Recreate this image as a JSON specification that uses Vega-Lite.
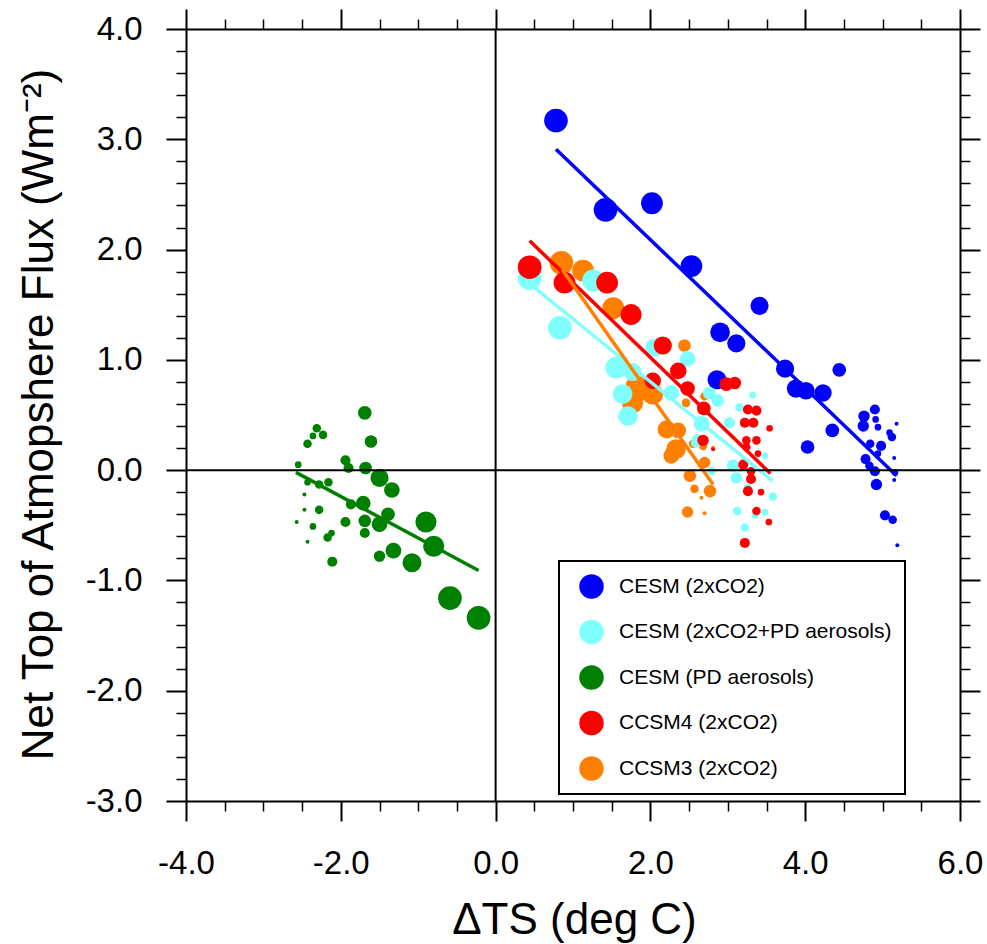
{
  "$schema": "https://vega.github.io/schema/vega-lite/v6.json",
  "width": 774,
  "height": 772,
  "autosize": {"type": "none"},
  "padding": {"left": 186, "top": 29, "right": 27, "bottom": 143},
  "background": "white",
  "config": {
    "view": {"stroke": null},
    "font": "Liberation Sans",
    "axis": {"grid": false, "labelFlush": false, "labelOverlap": false, "domainColor": "black", "tickColor": "black", "labelColor": "black", "titleColor": "black", "labelFont": "Liberation Sans", "titleFont": "Liberation Sans"},
    "legend": {"strokeWidth": 2}
  },
  "datasets": {
    "pts": [
      {"series": "CESM (2xCO2)", "dts": 0.78, "flux": 3.17, "t": 1},
      {"series": "CESM (2xCO2)", "dts": 1.42, "flux": 2.36, "t": 1},
      {"series": "CESM (2xCO2)", "dts": 2.02, "flux": 2.42, "t": 4},
      {"series": "CESM (2xCO2)", "dts": 2.53, "flux": 1.85, "t": 4},
      {"series": "CESM (2xCO2)", "dts": 2.90, "flux": 1.25, "t": 7},
      {"series": "CESM (2xCO2)", "dts": 2.86, "flux": 0.82, "t": 8},
      {"series": "CESM (2xCO2)", "dts": 3.41, "flux": 1.49, "t": 9},
      {"series": "CESM (2xCO2)", "dts": 3.11, "flux": 1.15, "t": 9},
      {"series": "CESM (2xCO2)", "dts": 3.74, "flux": 0.92, "t": 9},
      {"series": "CESM (2xCO2)", "dts": 3.88, "flux": 0.74, "t": 9},
      {"series": "CESM (2xCO2)", "dts": 4.01, "flux": 0.72, "t": 10},
      {"series": "CESM (2xCO2)", "dts": 4.23, "flux": 0.70, "t": 10},
      {"series": "CESM (2xCO2)", "dts": 4.44, "flux": 0.91, "t": 14},
      {"series": "CESM (2xCO2)", "dts": 4.35, "flux": 0.36, "t": 14},
      {"series": "CESM (2xCO2)", "dts": 4.03, "flux": 0.21, "t": 14},
      {"series": "CESM (2xCO2)", "dts": 4.76, "flux": 0.49, "t": 16},
      {"series": "CESM (2xCO2)", "dts": 4.75, "flux": 0.40, "t": 16},
      {"series": "CESM (2xCO2)", "dts": 4.92, "flux": -0.13, "t": 16},
      {"series": "CESM (2xCO2)", "dts": 4.90, "flux": 0.55, "t": 17},
      {"series": "CESM (2xCO2)", "dts": 4.98, "flux": 0.22, "t": 17},
      {"series": "CESM (2xCO2)", "dts": 4.78, "flux": 0.10, "t": 17},
      {"series": "CESM (2xCO2)", "dts": 4.90, "flux": -0.01, "t": 17},
      {"series": "CESM (2xCO2)", "dts": 5.03, "flux": -0.41, "t": 17},
      {"series": "CESM (2xCO2)", "dts": 5.12, "flux": 0.30, "t": 18},
      {"series": "CESM (2xCO2)", "dts": 4.84, "flux": 0.24, "t": 18},
      {"series": "CESM (2xCO2)", "dts": 4.83, "flux": 0.04, "t": 18},
      {"series": "CESM (2xCO2)", "dts": 5.13, "flux": -0.45, "t": 18},
      {"series": "CESM (2xCO2)", "dts": 4.91, "flux": 0.46, "t": 19},
      {"series": "CESM (2xCO2)", "dts": 4.94, "flux": 0.39, "t": 19},
      {"series": "CESM (2xCO2)", "dts": 5.09, "flux": 0.34, "t": 19},
      {"series": "CESM (2xCO2)", "dts": 4.94, "flux": 0.15, "t": 19},
      {"series": "CESM (2xCO2)", "dts": 5.16, "flux": -0.02, "t": 19},
      {"series": "CESM (2xCO2)", "dts": 5.18, "flux": 0.42, "t": 20},
      {"series": "CESM (2xCO2)", "dts": 5.15, "flux": 0.11, "t": 20},
      {"series": "CESM (2xCO2)", "dts": 5.15, "flux": -0.09, "t": 20},
      {"series": "CESM (2xCO2)", "dts": 5.19, "flux": -0.68, "t": 20},

      {"series": "CCSM3 (2xCO2)", "dts": 0.85, "flux": 1.88, "t": 1},
      {"series": "CCSM3 (2xCO2)", "dts": 1.13, "flux": 1.81, "t": 4},
      {"series": "CCSM3 (2xCO2)", "dts": 1.52, "flux": 1.47, "t": 4},
      {"series": "CCSM3 (2xCO2)", "dts": 1.82, "flux": 0.76, "t": 4},
      {"series": "CCSM3 (2xCO2)", "dts": 2.03, "flux": 0.69, "t": 5},
      {"series": "CCSM3 (2xCO2)", "dts": 1.77, "flux": 0.61, "t": 5},
      {"series": "CCSM3 (2xCO2)", "dts": 1.93, "flux": 0.72, "t": 7},
      {"series": "CCSM3 (2xCO2)", "dts": 2.33, "flux": 0.19, "t": 7},
      {"series": "CCSM3 (2xCO2)", "dts": 2.21, "flux": 0.37, "t": 9},
      {"series": "CCSM3 (2xCO2)", "dts": 2.36, "flux": 0.36, "t": 12},
      {"series": "CCSM3 (2xCO2)", "dts": 2.27, "flux": 0.13, "t": 12},
      {"series": "CCSM3 (2xCO2)", "dts": 2.44, "flux": 1.13, "t": 15},
      {"series": "CCSM3 (2xCO2)", "dts": 2.51, "flux": -0.05, "t": 15},
      {"series": "CCSM3 (2xCO2)", "dts": 2.77, "flux": -0.19, "t": 15},
      {"series": "CCSM3 (2xCO2)", "dts": 2.70, "flux": 0.07, "t": 16},
      {"series": "CCSM3 (2xCO2)", "dts": 2.48, "flux": -0.38, "t": 16},
      {"series": "CCSM3 (2xCO2)", "dts": 2.46, "flux": 0.61, "t": 18},
      {"series": "CCSM3 (2xCO2)", "dts": 2.70, "flux": 0.67, "t": 18},
      {"series": "CCSM3 (2xCO2)", "dts": 2.55, "flux": 0.24, "t": 18},
      {"series": "CCSM3 (2xCO2)", "dts": 2.68, "flux": 0.22, "t": 18},
      {"series": "CCSM3 (2xCO2)", "dts": 2.57, "flux": -0.17, "t": 18},
      {"series": "CCSM3 (2xCO2)", "dts": 2.66, "flux": -0.25, "t": 20},
      {"series": "CCSM3 (2xCO2)", "dts": 2.70, "flux": -0.39, "t": 20},
      {"series": "CCSM3 (2xCO2)", "dts": 2.81, "flux": 0.20, "t": 20},

      {"series": "CESM (2xCO2+PD aerosols)", "dts": 0.44, "flux": 1.74, "t": 1},
      {"series": "CESM (2xCO2+PD aerosols)", "dts": 0.83, "flux": 1.29, "t": 1},
      {"series": "CESM (2xCO2+PD aerosols)", "dts": 1.26, "flux": 1.72, "t": 4},
      {"series": "CESM (2xCO2+PD aerosols)", "dts": 1.56, "flux": 0.93, "t": 4},
      {"series": "CESM (2xCO2+PD aerosols)", "dts": 1.64, "flux": 0.69, "t": 7},
      {"series": "CESM (2xCO2+PD aerosols)", "dts": 1.71, "flux": 0.49, "t": 7},
      {"series": "CESM (2xCO2+PD aerosols)", "dts": 2.05, "flux": 1.11, "t": 9},
      {"series": "CESM (2xCO2+PD aerosols)", "dts": 1.77, "flux": 0.89, "t": 9},
      {"series": "CESM (2xCO2+PD aerosols)", "dts": 2.48, "flux": 1.01, "t": 12},
      {"series": "CESM (2xCO2+PD aerosols)", "dts": 2.27, "flux": 0.70, "t": 12},
      {"series": "CESM (2xCO2+PD aerosols)", "dts": 2.66, "flux": 0.42, "t": 12},
      {"series": "CESM (2xCO2+PD aerosols)", "dts": 2.76, "flux": 0.70, "t": 15},
      {"series": "CESM (2xCO2+PD aerosols)", "dts": 2.87, "flux": 0.63, "t": 15},
      {"series": "CESM (2xCO2+PD aerosols)", "dts": 2.61, "flux": 0.27, "t": 15},
      {"series": "CESM (2xCO2+PD aerosols)", "dts": 3.07, "flux": 0.04, "t": 15},
      {"series": "CESM (2xCO2+PD aerosols)", "dts": 3.02, "flux": 0.43, "t": 16},
      {"series": "CESM (2xCO2+PD aerosols)", "dts": 3.11, "flux": -0.07, "t": 16},
      {"series": "CESM (2xCO2+PD aerosols)", "dts": 2.59, "flux": 0.25, "t": 17},
      {"series": "CESM (2xCO2+PD aerosols)", "dts": 3.15, "flux": 0.57, "t": 18},
      {"series": "CESM (2xCO2+PD aerosols)", "dts": 2.79, "flux": -0.01, "t": 18},
      {"series": "CESM (2xCO2+PD aerosols)", "dts": 3.26, "flux": -0.16, "t": 18},
      {"series": "CESM (2xCO2+PD aerosols)", "dts": 3.58, "flux": -0.24, "t": 18},
      {"series": "CESM (2xCO2+PD aerosols)", "dts": 3.12, "flux": -0.37, "t": 18},
      {"series": "CESM (2xCO2+PD aerosols)", "dts": 3.22, "flux": -0.52, "t": 18},
      {"series": "CESM (2xCO2+PD aerosols)", "dts": 3.32, "flux": 0.68, "t": 19},
      {"series": "CESM (2xCO2+PD aerosols)", "dts": 3.48, "flux": 0.13, "t": 19},
      {"series": "CESM (2xCO2+PD aerosols)", "dts": 3.48, "flux": -0.38, "t": 19},
      {"series": "CESM (2xCO2+PD aerosols)", "dts": 3.35, "flux": -0.41, "t": 19},

      {"series": "CESM (PD aerosols)", "dts": -0.59, "flux": -1.16, "t": 1},
      {"series": "CESM (PD aerosols)", "dts": -0.22, "flux": -1.34, "t": 1},
      {"series": "CESM (PD aerosols)", "dts": -0.90, "flux": -0.47, "t": 5},
      {"series": "CESM (PD aerosols)", "dts": -0.80, "flux": -0.69, "t": 5},
      {"series": "CESM (PD aerosols)", "dts": -1.08, "flux": -0.84, "t": 8},
      {"series": "CESM (PD aerosols)", "dts": -1.50, "flux": -0.07, "t": 9},
      {"series": "CESM (PD aerosols)", "dts": -1.34, "flux": -0.18, "t": 12},
      {"series": "CESM (PD aerosols)", "dts": -1.50, "flux": -0.49, "t": 12},
      {"series": "CESM (PD aerosols)", "dts": -1.32, "flux": -0.73, "t": 12},
      {"series": "CESM (PD aerosols)", "dts": -1.71, "flux": -0.30, "t": 13},
      {"series": "CESM (PD aerosols)", "dts": -1.69, "flux": 0.52, "t": 14},
      {"series": "CESM (PD aerosols)", "dts": -1.39, "flux": -0.40, "t": 14},
      {"series": "CESM (PD aerosols)", "dts": -1.61, "flux": 0.26, "t": 15},
      {"series": "CESM (PD aerosols)", "dts": -1.68, "flux": 0.02, "t": 15},
      {"series": "CESM (PD aerosols)", "dts": -1.69, "flux": -0.46, "t": 15},
      {"series": "CESM (PD aerosols)", "dts": -1.50, "flux": -0.78, "t": 16},
      {"series": "CESM (PD aerosols)", "dts": -1.94, "flux": 0.09, "t": 17},
      {"series": "CESM (PD aerosols)", "dts": -1.90, "flux": 0.02, "t": 17},
      {"series": "CESM (PD aerosols)", "dts": -1.87, "flux": -0.31, "t": 17},
      {"series": "CESM (PD aerosols)", "dts": -1.94, "flux": -0.47, "t": 17},
      {"series": "CESM (PD aerosols)", "dts": -1.69, "flux": -0.57, "t": 17},
      {"series": "CESM (PD aerosols)", "dts": -2.11, "flux": -0.83, "t": 17},
      {"series": "CESM (PD aerosols)", "dts": -2.31, "flux": 0.38, "t": 18},
      {"series": "CESM (PD aerosols)", "dts": -2.23, "flux": 0.32, "t": 18},
      {"series": "CESM (PD aerosols)", "dts": -2.43, "flux": 0.24, "t": 18},
      {"series": "CESM (PD aerosols)", "dts": -2.28, "flux": -0.13, "t": 18},
      {"series": "CESM (PD aerosols)", "dts": -2.16, "flux": -0.11, "t": 18},
      {"series": "CESM (PD aerosols)", "dts": -2.28, "flux": -0.36, "t": 18},
      {"series": "CESM (PD aerosols)", "dts": -2.17, "flux": -0.61, "t": 18},
      {"series": "CESM (PD aerosols)", "dts": -2.36, "flux": 0.31, "t": 19},
      {"series": "CESM (PD aerosols)", "dts": -2.55, "flux": 0.05, "t": 19},
      {"series": "CESM (PD aerosols)", "dts": -2.43, "flux": -0.11, "t": 19},
      {"series": "CESM (PD aerosols)", "dts": -2.36, "flux": -0.51, "t": 19},
      {"series": "CESM (PD aerosols)", "dts": -2.12, "flux": -0.57, "t": 19},
      {"series": "CESM (PD aerosols)", "dts": -2.47, "flux": -0.22, "t": 20},
      {"series": "CESM (PD aerosols)", "dts": -2.47, "flux": -0.36, "t": 20},
      {"series": "CESM (PD aerosols)", "dts": -2.57, "flux": -0.47, "t": 20},
      {"series": "CESM (PD aerosols)", "dts": -2.43, "flux": -0.65, "t": 20},

      {"series": "CCSM4 (2xCO2)", "dts": 0.44, "flux": 1.84, "t": 1},
      {"series": "CCSM4 (2xCO2)", "dts": 0.89, "flux": 1.70, "t": 4},
      {"series": "CCSM4 (2xCO2)", "dts": 1.44, "flux": 1.70, "t": 4},
      {"series": "CCSM4 (2xCO2)", "dts": 1.75, "flux": 1.41, "t": 5},
      {"series": "CCSM4 (2xCO2)", "dts": 2.16, "flux": 1.13, "t": 9},
      {"series": "CCSM4 (2xCO2)", "dts": 2.36, "flux": 0.90, "t": 11},
      {"series": "CCSM4 (2xCO2)", "dts": 2.03, "flux": 0.81, "t": 11},
      {"series": "CCSM4 (2xCO2)", "dts": 2.48, "flux": 0.74, "t": 13},
      {"series": "CCSM4 (2xCO2)", "dts": 2.98, "flux": 0.78, "t": 14},
      {"series": "CCSM4 (2xCO2)", "dts": 2.69, "flux": 0.56, "t": 14},
      {"series": "CCSM4 (2xCO2)", "dts": 3.09, "flux": 0.79, "t": 15},
      {"series": "CCSM4 (2xCO2)", "dts": 2.68, "flux": 0.27, "t": 16},
      {"series": "CCSM4 (2xCO2)", "dts": 3.26, "flux": 0.55, "t": 17},
      {"series": "CCSM4 (2xCO2)", "dts": 3.37, "flux": 0.54, "t": 17},
      {"series": "CCSM4 (2xCO2)", "dts": 3.22, "flux": 0.43, "t": 17},
      {"series": "CCSM4 (2xCO2)", "dts": 3.33, "flux": 0.43, "t": 17},
      {"series": "CCSM4 (2xCO2)", "dts": 3.20, "flux": 0.05, "t": 17},
      {"series": "CCSM4 (2xCO2)", "dts": 3.30, "flux": -0.08, "t": 17},
      {"series": "CCSM4 (2xCO2)", "dts": 3.26, "flux": -0.19, "t": 17},
      {"series": "CCSM4 (2xCO2)", "dts": 3.22, "flux": -0.66, "t": 17},
      {"series": "CCSM4 (2xCO2)", "dts": 3.37, "flux": 0.27, "t": 18},
      {"series": "CCSM4 (2xCO2)", "dts": 3.24, "flux": 0.27, "t": 18},
      {"series": "CCSM4 (2xCO2)", "dts": 3.24, "flux": 0.21, "t": 18},
      {"series": "CCSM4 (2xCO2)", "dts": 3.30, "flux": -0.01, "t": 18},
      {"series": "CCSM4 (2xCO2)", "dts": 3.37, "flux": -0.37, "t": 18},
      {"series": "CCSM4 (2xCO2)", "dts": 3.54, "flux": 0.38, "t": 19},
      {"series": "CCSM4 (2xCO2)", "dts": 3.39, "flux": 0.15, "t": 19},
      {"series": "CCSM4 (2xCO2)", "dts": 3.43, "flux": -0.20, "t": 19},
      {"series": "CCSM4 (2xCO2)", "dts": 3.53, "flux": -0.47, "t": 19},
      {"series": "CCSM4 (2xCO2)", "dts": 2.81, "flux": 0.19, "t": 20}
    ],
    "fits": [
      {"series": "CESM (2xCO2)", "dts": 0.78, "flux": 2.91},
      {"series": "CESM (2xCO2)", "dts": 5.18, "flux": -0.05},
      {"series": "CESM (2xCO2+PD aerosols)", "dts": 0.44, "flux": 1.69},
      {"series": "CESM (2xCO2+PD aerosols)", "dts": 3.58, "flux": -0.10},
      {"series": "CESM (PD aerosols)", "dts": -2.58, "flux": -0.02},
      {"series": "CESM (PD aerosols)", "dts": -0.22, "flux": -0.91},
      {"series": "CCSM4 (2xCO2)", "dts": 0.44, "flux": 2.08},
      {"series": "CCSM4 (2xCO2)", "dts": 3.55, "flux": -0.03},
      {"series": "CCSM3 (2xCO2)", "dts": 0.86, "flux": 1.82},
      {"series": "CCSM3 (2xCO2)", "dts": 2.81, "flux": -0.13}
    ]
  },
  "layer": [
    {
      "data": {"name": "fits"},
      "mark": {"type": "point", "opacity": 0},
      "encoding": {
        "x": {"field": "dts", "type": "quantitative", "scale": {"domain": [-4, 6], "nice": false, "zero": false},
          "axis": {"orient": "bottom", "values": [-3.5, -3, -2.5, -1.5, -1, -0.5, 0.5, 1, 1.5, 2.5, 3, 3.5, 4.5, 5, 5.5], "tickSize": 10, "tickWidth": 1.5, "domain": false, "labels": false, "title": null}},
        "y": {"field": "flux", "type": "quantitative", "scale": {"domain": [-3, 4], "nice": false, "zero": false},
          "axis": {"orient": "left", "values": [-2.8, -2.6, -2.4, -2.2, -1.8, -1.6, -1.4, -1.2, -0.8, -0.6, -0.4, -0.2, 0.2, 0.4, 0.6, 0.8, 1.2, 1.4, 1.6, 1.8, 2.2, 2.4, 2.6, 2.8, 3.2, 3.4, 3.6, 3.8], "tickSize": 10, "tickWidth": 1.5, "domain": false, "labels": false, "title": null}}
      }
    },
    {
      "data": {"name": "fits"},
      "mark": {"type": "point", "opacity": 0},
      "encoding": {
        "x": {"field": "dts", "type": "quantitative", "scale": {"domain": [-4, 6], "nice": false, "zero": false},
          "axis": {"orient": "top", "values": [-3.5, -3, -2.5, -1.5, -1, -0.5, 0.5, 1, 1.5, 2.5, 3, 3.5, 4.5, 5, 5.5], "tickSize": 10, "tickWidth": 1.5, "domain": false, "labels": false, "title": null}},
        "y": {"field": "flux", "type": "quantitative", "scale": {"domain": [-3, 4], "nice": false, "zero": false},
          "axis": {"orient": "right", "values": [-2.8, -2.6, -2.4, -2.2, -1.8, -1.6, -1.4, -1.2, -0.8, -0.6, -0.4, -0.2, 0.2, 0.4, 0.6, 0.8, 1.2, 1.4, 1.6, 1.8, 2.2, 2.4, 2.6, 2.8, 3.2, 3.4, 3.6, 3.8], "tickSize": 10, "tickWidth": 1.5, "domain": false, "labels": false, "title": null}}
      }
    },
    {
      "data": {"name": "pts"},
      "mark": {"type": "point", "filled": true, "opacity": 1, "shape": "circle", "strokeWidth": 0},
      "encoding": {
        "x": {"field": "dts", "type": "quantitative", "scale": {"domain": [-4, 6], "nice": false, "zero": false},
          "axis": {"orient": "bottom", "values": [-4, -2, 0, 2, 4, 6], "tickSize": 20, "tickWidth": 2, "domainWidth": 2, "labelFontSize": 33, "labelPadding": 26,
            "labelExpr": "(datum.value < 0 ? '-' : '') + format(abs(datum.value), '.1f')",
            "title": "ΔTS (deg C)", "titleFontSize": 44, "titleFontWeight": "normal", "titleX": 388, "titleY": 132, "titleBaseline": "alphabetic", "titleAlign": "center"}},
        "y": {"field": "flux", "type": "quantitative", "scale": {"domain": [-3, 4], "nice": false, "zero": false},
          "axis": {"orient": "left", "values": [-3, -2, -1, 0, 1, 2, 3, 4], "tickSize": 20, "tickWidth": 2, "domainWidth": 2, "labelFontSize": 33, "labelPadding": 24,
            "labelExpr": "(datum.value < 0 ? '-' : '') + format(abs(datum.value), '.1f')",
            "title": "Net Top of Atmopshere Flux (Wm⁻²)", "titleFontSize": 44, "titleFontWeight": "normal", "titleAngle": 270, "titleX": -134, "titleY": 385, "titleBaseline": "alphabetic", "titleAlign": "center"}},
        "color": {"field": "series", "type": "nominal",
          "scale": {"domain": ["CESM (2xCO2)", "CESM (2xCO2+PD aerosols)", "CESM (PD aerosols)", "CCSM4 (2xCO2)", "CCSM3 (2xCO2)"], "range": ["#0000FF", "#80FFFF", "#008000", "#FF0000", "#FF8000"]},
          "legend": {"orient": "none", "legendX": 373, "legendY": 532, "title": null, "direction": "vertical", "symbolType": "circle", "symbolSize": 600, "symbolStrokeWidth": 0, "symbolOpacity": 1, "symbolOffset": 7,
            "labelFontSize": 21, "labelFont": "Liberation Sans", "labelColor": "black", "labelOffset": 15, "labelLimit": 400, "rowPadding": 20.5, "padding": 13, "strokeColor": "black", "fillColor": "white"}},
        "size": {"field": "t", "type": "quantitative", "scale": {"domain": [1, 20], "range": [560, 16]}, "legend": null}
      }
    },
    {
      "data": {"name": "fits"},
      "mark": {"type": "line", "strokeWidth": 3.5},
      "encoding": {
        "x": {"field": "dts", "type": "quantitative", "scale": {"domain": [-4, 6], "nice": false, "zero": false},
          "axis": {"orient": "top", "values": [-4, -2, 0, 2, 4, 6], "tickSize": 20, "tickWidth": 2, "domainWidth": 2, "labels": false, "title": null}},
        "y": {"field": "flux", "type": "quantitative", "scale": {"domain": [-3, 4], "nice": false, "zero": false},
          "axis": {"orient": "right", "values": [-3, -2, -1, 0, 1, 2, 3, 4], "tickSize": 20, "tickWidth": 2, "domainWidth": 2, "labels": false, "title": null}},
        "color": {"field": "series", "type": "nominal", "legend": null}
      }
    },
    {
      "data": {"values": [{"z": 0}]},
      "mark": {"type": "rule", "color": "black", "strokeWidth": 2},
      "encoding": {"y": {"datum": 0, "type": "quantitative", "axis": null}}
    },
    {
      "data": {"values": [{"z": 0}]},
      "mark": {"type": "rule", "color": "black", "strokeWidth": 2},
      "encoding": {"x": {"datum": 0, "type": "quantitative", "axis": null}}
    }
  ],
  "resolve": {"axis": {"x": "independent", "y": "independent"}, "legend": {"color": "independent"}}
}
